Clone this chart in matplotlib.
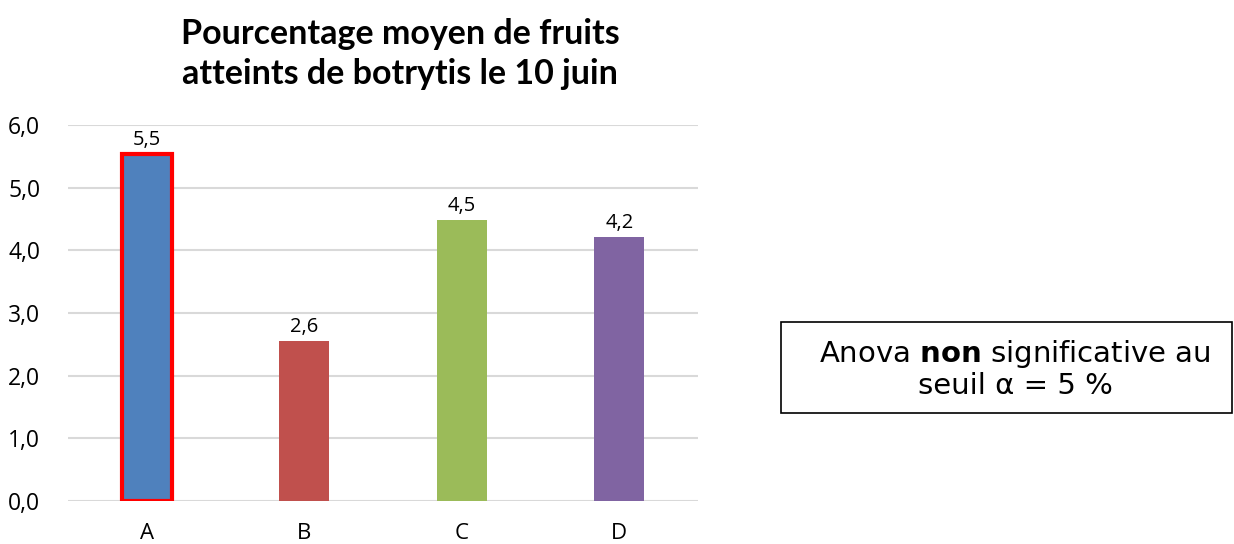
import matplotlib
matplotlib.use("Agg")
import matplotlib.pyplot as plt
from matplotlib.patches import Rectangle

# data
categories = ["A", "B", "C", "D"]
values = [5.54, 2.56, 4.48, 4.21]
colors = ["#4F81BD", "#C0504D", "#9BBB59", "#8064A2"]
yticks = [0, 1, 2, 3, 4, 5, 6]
title = "Pourcentage moyen de fruits\natteints de botrytis le 10 juin"

LABEL_FONT = "Open Sans"

fig = plt.figure(figsize=(12.34, 5.44), dpi=100)
ax = fig.add_axes([68 / 1234, 1 - 501 / 544, 630 / 1234, 376 / 544])

x = range(len(categories))
bars = ax.bar(x, values, width=0.317, color=colors, zorder=3)
bars[0].set_edgecolor("#FF0000")
bars[0].set_linewidth(3)

for xi, v in zip(x, values):
    ax.text(xi, v + 0.06, f"{v:.1f}".replace(".", ","), ha="center", va="bottom",
            fontsize=14.5, family=LABEL_FONT, color="#000000")

ax.set_xlim(-0.5, 3.5)
ax.set_ylim(0, 6)
ax.set_yticks(yticks)
ax.set_yticklabels([f"{t:.1f}".replace(".", ",") for t in yticks],
                   fontsize=16.5, family=LABEL_FONT)
ax.set_xticks(list(x))
ax.set_xticklabels(categories, fontsize=16, family=LABEL_FONT)
ax.tick_params(length=0)
ax.tick_params(axis="y", pad=20)
ax.tick_params(axis="x", pad=16)
ax.grid(axis="y", color="#D9D9D9", lw=1.5, zorder=0)
for s in ax.spines.values():
    s.set_visible(False)

fig.text(400 / 1234, 1 - 54 / 544, title, ha="center", va="center",
         fontsize=24.5, fontweight="bold", family="Lato", linespacing=1.32)

# annotation box
fig.patches.append(Rectangle((781 / 1234, 1 - 413 / 544), 451 / 1234, 91 / 544,
                             transform=fig.transFigure, facecolor="white",
                             edgecolor="#000000", lw=1.2))
fig.text(1015 / 1234, 1 - 354 / 544, r"Anova $\mathbf{non}$ significative au",
         ha="center", va="center", fontsize=21, family="DejaVu Sans")
fig.text(1015 / 1234, 1 - 386 / 544, "seuil α = 5 %",
         ha="center", va="center", fontsize=21, family="DejaVu Sans")

fig.savefig("out.png", dpi=100)
